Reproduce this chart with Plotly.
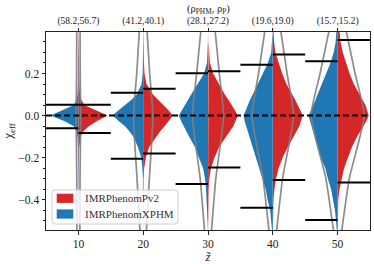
import plotly.graph_objects as go

# ---------------- data ----------------
z_vals = [10, 20, 30, 40, 50]
snr_labels = ["(58.2,56.7)", "(41.2,40.1)", "(28.1,27.2)", "(19.6,19.0)", "(15.7,15.2)"]
legend_names = ["IMRPhenomPv2", "IMRPhenomXPHM"]

# chi_eff levels at which the violin half-widths (in z-units) were read
chi_levels = [-0.55, -0.5, -0.45, -0.4, -0.35, -0.3, -0.25, -0.2, -0.15, -0.1, -0.075, -0.05,
              -0.025, 0.0, 0.025, 0.05, 0.075, 0.1, 0.15, 0.2, 0.25, 0.3, 0.35, 0.4, 0.45]

xphm_w10 = [0, 0, 0, 0, 0, 0, 0.03, 0.05, 0.08, 0.15, 0.3, 0.7, 2.2, 4.3, 2.5, 0.7, 0.3, 0.15, 0.08, 0.05, 0.03, 0, 0, 0, 0]
xphm_w20 = [0, 0, 0, 0, 0.02, 0.05, 0.12, 0.3, 0.8, 1.5, 2.1, 2.8, 3.8, 4.7, 3.8, 2.8, 1.8, 1.0, 0.25, 0.08, 0.03, 0, 0, 0, 0]
xphm_w30 = [0, 0.05, 0.1, 0.2, 0.3, 0.45, 0.75, 1.4, 2.0, 2.9, 3.35, 3.8, 4.15, 4.5, 4.05, 3.6, 3.1, 2.6, 1.6, 0.6, 0.15, 0.05, 0.02, 0, 0]
xphm_w40 = [0.1, 0.2, 0.4, 0.8, 1.1, 1.6, 2.1, 2.7, 3.1, 3.7, 3.95, 4.2, 4.35, 4.5, 4.2, 3.9, 3.5, 3.1, 2.3, 1.5, 0.75, 0.25, 0.08, 0.03, 0.02]
xphm_w50 = [0.1, 0.2, 0.4, 0.7, 1.0, 1.5, 1.9, 2.6, 3.1, 3.6, 3.85, 4.1, 4.3, 4.5, 4.1, 3.7, 3.4, 3.1, 2.4, 1.75, 1.1, 0.6, 0.3, 0.2, 0.1]

pv2_w10 = [0, 0, 0, 0, 0, 0, 0.03, 0.06, 0.12, 0.35, 0.75, 1.6, 2.9, 4.5, 2.7, 0.9, 0.45, 0.25, 0.15, 0.12, 0.1, 0.1, 0.08, 0.08, 0.08]
pv2_w20 = [0, 0, 0, 0, 0.03, 0.06, 0.15, 0.4, 0.9, 2.0, 2.6, 3.3, 4.0, 4.6, 3.9, 3.1, 2.3, 1.5, 0.5, 0.2, 0.12, 0.1, 0.08, 0.08, 0.08]
pv2_w30 = [0.02, 0.02, 0.02, 0.05, 0.1, 0.2, 0.45, 1.0, 1.7, 2.8, 3.35, 3.9, 4.25, 4.6, 4.15, 3.7, 3.15, 2.6, 1.7, 0.8, 0.3, 0.15, 0.1, 0.08, 0.08]
pv2_w40 = [0.02, 0.03, 0.05, 0.1, 0.25, 0.5, 0.9, 1.5, 2.3, 3.2, 3.65, 4.1, 4.35, 4.6, 4.25, 3.9, 3.45, 3.0, 2.1, 1.45, 0.9, 0.4, 0.2, 0.15, 0.1]
pv2_w50 = [0.02, 0.03, 0.05, 0.1, 0.3, 0.7, 1.0, 1.6, 2.2, 3.0, 3.5, 4.0, 4.45, 4.8, 4.6, 4.3, 3.85, 3.4, 2.5, 1.85, 1.35, 0.8, 0.45, 0.25, 0.15]

# gray outline (prior) half-widths
prior_levels = [-0.6, -0.3, 0.0, 0.2, 0.45]
prior_w10 = [0.22, 0.25, 0.35, 0.28, 0.25]
prior_w20 = [0.4, 0.95, 1.5, 1.0, 0.5]
prior_w30 = [0.4, 1.2, 2.4, 1.75, 0.95]
prior_w40 = [0.4, 1.5, 3.2, 2.2, 1.0]
prior_w50 = [0.4, 1.8, 4.1, 2.7, 1.0]

# 90% credible bounds (horizontal black lines)
xphm_lower = [-0.060, -0.205, -0.325, -0.437, -0.495]
xphm_upper = [0.052, 0.108, 0.201, 0.241, 0.258]
pv2_lower = [-0.083, -0.180, -0.246, -0.306, -0.318]
pv2_upper = [0.052, 0.127, 0.211, 0.290, 0.359]

xphm_widths = [xphm_w10, xphm_w20, xphm_w30, xphm_w40, xphm_w50]
pv2_widths = [pv2_w10, pv2_w20, pv2_w30, pv2_w40, pv2_w50]
prior_widths = [prior_w10, prior_w20, prior_w30, prior_w40, prior_w50]

BLUE = "#1f77b4"
RED = "#d62728"
GRAY = "rgba(128,128,128,0.9)"
FONT = "Liberation Serif"
INK = "#222"
HALF_LEN = 5.0

fig = go.Figure()

# violin halves
for i, z in enumerate(z_vals):
    for widths, sign, color in ((pv2_widths[i], 1, RED), (xphm_widths[i], -1, BLUE)):
        xs = [z + sign * w for w in widths] + [z, z]
        ys = list(chi_levels) + [chi_levels[-1], chi_levels[0]]
        fig.add_trace(go.Scatter(
            x=xs, y=ys, mode="lines", fill="toself", fillcolor=color,
            line=dict(width=0, color=color), showlegend=False, hoverinfo="skip"))

# gray outlines
for i, z in enumerate(z_vals):
    xs, ys = [], []
    for sign in (-1, 1):
        xs += [z + sign * w for w in prior_widths[i]] + [None]
        ys += list(prior_levels) + [None]
    fig.add_trace(go.Scatter(x=xs, y=ys, mode="lines",
                             line=dict(color=GRAY, width=1.7, shape="spline", smoothing=0.5),
                             showlegend=False, hoverinfo="skip"))

# credible-interval lines
for i, z in enumerate(z_vals):
    for lo, hi, x0, x1 in ((xphm_lower[i], xphm_upper[i], z - HALF_LEN, z),
                           (pv2_lower[i], pv2_upper[i], z, z + HALF_LEN)):
        fig.add_trace(go.Scatter(x=[x0, x1, None, x0, x1], y=[lo, lo, None, hi, hi],
                                 mode="lines", line=dict(color="black", width=2),
                                 showlegend=False, hoverinfo="skip"))

# zero dashed line
fig.add_trace(go.Scatter(x=[5, 55], y=[0, 0], mode="lines",
                         line=dict(color="black", width=2, dash="6px,3px"),
                         showlegend=False, hoverinfo="skip"))

# invisible trace for top axis
fig.add_trace(go.Scatter(x=z_vals, y=[0] * len(z_vals), xaxis="x2", mode="markers",
                         marker=dict(opacity=0), showlegend=False, hoverinfo="skip"))

axis_common = dict(showgrid=False, zeroline=False, showline=True, linecolor=INK,
                   linewidth=1, ticks="outside", ticklen=3.5, tickcolor=INK, automargin=False,
                   tickfont=dict(family=FONT, size=11.5, color=INK))

# ---- legend drawn as shapes + text (matplotlib-like compact legend) ----
PW, PH = 324.0, 198.0  # plot area size in px


def px2paper(px, py):
    return (px - 46) / PW, (230 - py) / PH


def rounded_rect(x0, y0, x1, y1, r=3):
    ax0, ay0 = px2paper(x0, y1)
    ax1, ay1 = px2paper(x1, y0)
    rx, ry = r / PW, r / PH
    return (f"M {ax0+rx},{ay0} L {ax1-rx},{ay0} Q {ax1},{ay0} {ax1},{ay0+ry} "
            f"L {ax1},{ay1-ry} Q {ax1},{ay1} {ax1-rx},{ay1} L {ax0+rx},{ay1} "
            f"Q {ax0},{ay1} {ax0},{ay1-ry} L {ax0},{ay0+ry} Q {ax0},{ay0} {ax0+rx},{ay0} Z")


shapes = [dict(type="path", xref="paper", yref="paper", path=rounded_rect(52, 190, 178, 224),
               fillcolor="rgba(255,255,255,0.8)", line=dict(color="#cccccc", width=1), layer="above")]
annotations = []
for k, (name, color) in enumerate(zip(legend_names, [RED, BLUE])):
    cy = 198.3 + 15.7 * k
    x0, y0 = px2paper(56.7, cy + 4.6)
    x1, y1 = px2paper(73.3, cy - 4.6)
    shapes.append(dict(type="rect", xref="paper", yref="paper", x0=x0, x1=x1, y0=y0, y1=y1,
                       fillcolor=color, line=dict(width=0), layer="above"))
    tx, ty = px2paper(82.5, cy)
    annotations.append(dict(text=name, x=tx, y=ty, xref="paper", yref="paper", xanchor="left",
                            yanchor="middle", showarrow=False,
                            font=dict(family=FONT, size=11, color="#333")))

annotations.append(dict(text="(ρ<sub>PHM</sub>, ρ<sub>P</sub>)", x=30, xref="x", y=1, yref="paper",
                        yanchor="middle", yshift=23, showarrow=False,
                        font=dict(family=FONT, size=10.5, color=INK)))

fig.update_layout(
    width=374, height=264,
    margin=dict(l=46, r=4, t=32, b=34, autoexpand=False),
    plot_bgcolor="white", paper_bgcolor="white",
    showlegend=False,
    xaxis=dict(range=[5, 55], tickvals=z_vals, mirror=True,
               title=dict(text="<i>z̃</i>", font=dict(family=FONT, size=13, color=INK), standoff=0),
               **axis_common),
    xaxis2=dict(range=[5, 55], overlaying="x", side="top", tickvals=z_vals, ticktext=snr_labels,
                showgrid=False, zeroline=False, showline=False, ticks="outside", ticklen=3.5,
                automargin=False, tickcolor=INK, tickfont=dict(family=FONT, size=9.5, color=INK)),
    yaxis=dict(range=[-0.543, 0.397], tickvals=[-0.4, -0.2, 0.0, 0.2], tickformat=".1f",
               mirror=True,
               minor=dict(dtick=0.05, tick0=0, ticks="outside", ticklen=2, tickcolor=INK),
               title=dict(text="χ<sub>eff</sub>", font=dict(family=FONT, size=13, color=INK), standoff=4),
               **axis_common),
    shapes=shapes,
    annotations=annotations,
)

fig.write_html("out.html", config={"displayModeBar": False},
               post_script="document.body.style.margin='0';document.body.style.overflow='hidden';")
